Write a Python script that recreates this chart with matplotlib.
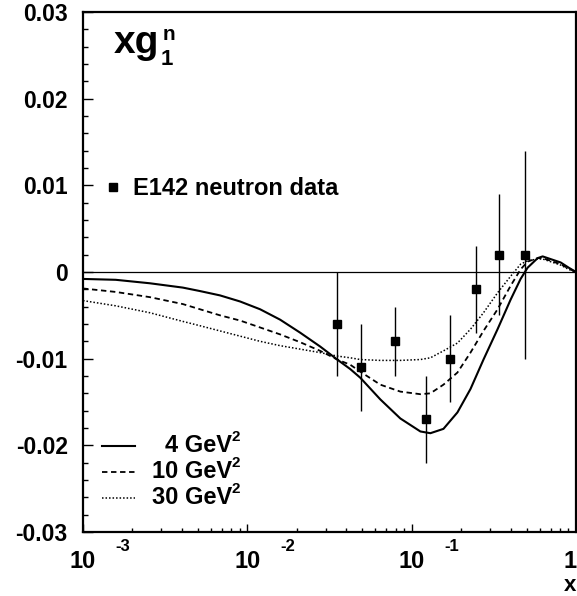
import matplotlib
matplotlib.use('Agg')
import matplotlib.pyplot as plt
from matplotlib.lines import Line2D
from matplotlib.ticker import MultipleLocator, LogLocator, NullFormatter
from matplotlib.transforms import blended_transform_factory

plt.rcParams['font.family'] = ['Liberation Sans', 'DejaVu Sans']
plt.rcParams['font.weight'] = 'bold'
plt.rcParams['axes.unicode_minus'] = False

# E142 neutron data
x_data = [0.035, 0.049, 0.079, 0.123, 0.172, 0.245, 0.341, 0.486]
y_data = [-0.006, -0.011, -0.008, -0.017, -0.010, -0.002, 0.002, 0.002]
y_err = [0.006, 0.005, 0.004, 0.005, 0.005, 0.005, 0.007, 0.012]

# model curves xg1^n at three Q^2
x_curve = [0.001, 0.00158, 0.00255, 0.00405, 0.00515, 0.00682, 0.00903, 0.01196,
           0.01583, 0.02096, 0.02775, 0.03524, 0.04229, 0.04868, 0.06445, 0.08532,
           0.113, 0.130, 0.1561, 0.1899, 0.228, 0.2736, 0.3332, 0.3998, 0.4601,
           0.5077, 0.5843, 0.6266, 0.8068, 0.9027, 1.0]
y_4gev = [-0.0008, -0.0009, -0.0013, -0.0018, -0.0022, -0.0027, -0.0034, -0.0043,
          -0.0055, -0.0070, -0.0086, -0.0101, -0.0112, -0.0122, -0.0147, -0.0169,
          -0.0184, -0.0186, -0.0181, -0.0162, -0.0135, -0.0101, -0.0066, -0.0032, -0.0008,
          0.0005, 0.0016, 0.0018, 0.0011, 0.0005, 0.0]
y_10gev = [-0.0019, -0.0023, -0.0029, -0.0037, -0.0043, -0.0050, -0.0056, -0.0064,
           -0.0072, -0.0081, -0.0091, -0.0101, -0.0107, -0.0115, -0.0130, -0.0138,
           -0.0141, -0.0140, -0.0130, -0.0116, -0.0093, -0.0068, -0.0043, -0.0016, 0.0003,
           0.0012, 0.0016, 0.0016, 0.0009, 0.0004, 0.0]
y_30gev = [-0.0033, -0.0039, -0.0047, -0.0057, -0.0062, -0.0068, -0.0074, -0.0080,
           -0.0085, -0.0089, -0.0093, -0.0097, -0.0099, -0.0101, -0.0102, -0.0102,
           -0.0101, -0.0099, -0.0091, -0.0082, -0.0066, -0.0047, -0.0024, -0.0005, 0.0009,
           0.0013, 0.0015, 0.0015, 0.0008, 0.0003, 0.0]

curve_labels = ['4 GeV', '10 GeV', '30 GeV']
y_ticks = [-0.03, -0.02, -0.01, 0, 0.01, 0.02, 0.03]
y_ticklabels = ['-0.03', '-0.02', '-0.01', '0', '0.01', '0.02', '0.03']
x_ticks = [0.001, 0.01, 0.1]
x_exponents = ['-3', '-2', '-1']

W, H = 577, 596


def fpos(x, y):
    # pixel position -> figure fraction
    return x / W, 1 - y / H


fig = plt.figure(figsize=(W / 100, H / 100), dpi=100)
ax = fig.add_axes([83 / W, 1 - 532 / H, 493 / W, 520 / H])

ax.axhline(0, color='black', lw=0.9, zorder=1)
ax.plot(x_curve, y_4gev, color='black', lw=1.5, ls='-')
ax.plot(x_curve, y_10gev, color='black', lw=1.3, ls=(0, (3, 2)))
ax.plot(x_curve, y_30gev, color='black', lw=1.1, ls=(0, (1, 1.3)))
ax.errorbar(x_data, y_data, yerr=y_err, fmt='s', color='black', ms=5.5,
            elinewidth=1, capsize=0, zorder=5)

ax.set_xscale('log')
ax.set_xlim(0.001, 1)
ax.set_ylim(-0.03, 0.03)

for sp in ax.spines.values():
    sp.set_linewidth(1.6)

ax.set_yticks(y_ticks)
ax.set_yticklabels(y_ticklabels, fontsize=16.5, fontweight='bold')
ax.yaxis.set_minor_locator(MultipleLocator(0.002))
ax.tick_params(axis='y', which='major', direction='in', length=7, width=1, pad=11)
ax.tick_params(axis='y', which='minor', direction='in', length=3.5, width=1)

ax.xaxis.set_major_locator(LogLocator(base=10, numticks=10))
ax.xaxis.set_minor_locator(LogLocator(base=10, subs=range(2, 10), numticks=20))
ax.xaxis.set_major_formatter(NullFormatter())
ax.xaxis.set_minor_formatter(NullFormatter())
ax.tick_params(axis='x', which='major', direction='in', length=6, width=1)
ax.tick_params(axis='x', which='minor', direction='in', length=3, width=1)

# ROOT-style log labels
trans = blended_transform_factory(ax.transData, fig.transFigure)
for xt, ex in zip(x_ticks, x_exponents):
    ax.text(xt, 1 - 568 / H, '10', transform=trans, ha='center', va='baseline',
            fontsize=17, fontweight='bold', clip_on=False)
    ax.text(xt * 1.75, 1 - 551 / H, ex, transform=trans, ha='center', va='baseline',
            fontsize=12, fontweight='bold', clip_on=False)
# the "1" at x = 1 sits on the right edge
fig.text(*fpos(577, 568), '1', ha='right', va='baseline', fontsize=17, fontweight='bold')

fig.text(*fpos(576, 591), 'x', ha='right', va='baseline', fontsize=16, fontweight='bold')

# title
fig.text(*fpos(114, 53), 'xg', ha='left', va='baseline', fontsize=28, fontweight='bold')
fig.text(*fpos(163, 40), 'n', ha='left', va='baseline', fontsize=15, fontweight='bold')
fig.text(*fpos(161, 65), '1', ha='left', va='baseline', fontsize=16, fontweight='bold')

# data legend
fig.add_artist(Line2D([113 / W], [1 - 187 / H], marker='s', color='black', ms=5.5,
                      transform=fig.transFigure))
fig.text(*fpos(133, 195), 'E142 neutron data', ha='left', va='baseline',
         fontsize=17, fontweight='bold')

# curve legend
styles = [('-', 1.5), ((0, (3, 2)), 1.3), ((0, (1, 1.3)), 1.1)]
for i, (lab, (ls, lw)) in enumerate(zip(curve_labels, styles)):
    yy = 446 + i * 26
    fig.add_artist(Line2D([102 / W, 135 / W], [1 - yy / H, 1 - yy / H], color='black',
                          lw=lw, ls=ls, transform=fig.transFigure))
    fig.text(*fpos(232, yy + 6), lab, ha='right', va='baseline', fontsize=17,
             fontweight='bold')
    fig.text(*fpos(232, yy - 5), '2', ha='left', va='baseline', fontsize=11,
             fontweight='bold')

fig.savefig('out.png', dpi=100)
